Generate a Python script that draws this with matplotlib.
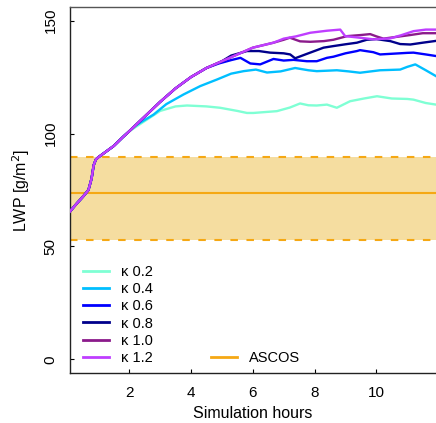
import matplotlib
matplotlib.use("Agg")
import matplotlib.pyplot as plt
from matplotlib.lines import Line2D

plt.rcParams['font.family'] = ['Liberation Sans', 'DejaVu Sans']

# ---- data ----
# common initial spin-up (hours, LWP)
t_common = [0.083, 0.3, 0.5, 0.68, 0.78, 0.85, 0.92, 1.0, 1.2, 1.5, 1.8, 2.0]
lwp_common = [65.5, 69.0, 72.0, 75.0, 80.0, 86.0, 88.5, 89.5, 91.5, 94.5, 98.5, 101.0]

t_k02 = [2.5, 3.0, 3.5, 3.87, 4.5, 4.94, 5.5, 5.81, 6.02, 6.4, 6.78, 7.2, 7.53, 7.8,
         8.07, 8.4, 8.72, 9.15, 9.6, 10.02, 10.5, 11.0, 11.2, 11.6, 11.93]
lwp_k02 = [105.5, 110.0, 112.0, 112.4, 112.0, 111.4, 110.0, 109.1, 109.1, 109.5, 109.9,
           111.5, 113.3, 112.5, 112.4, 112.8, 111.4, 114.3, 115.5, 116.5, 115.5, 115.3,
           115.0, 113.5, 112.8]

t_k04 = [2.2, 2.79, 3.2, 3.76, 4.3, 4.84, 5.3, 5.7, 6.1, 6.46, 6.9, 7.37, 7.8, 8.07,
         8.72, 9.1, 9.47, 10.12, 10.77, 11.0, 11.26, 11.6, 11.93]
lwp_k04 = [103.5, 108.4, 113.0, 117.3, 121.0, 123.9, 126.5, 127.6, 128.3, 127.0, 127.5,
           129.0, 128.0, 127.6, 128.0, 127.5, 126.9, 128.0, 128.3, 129.5, 130.6, 128.0, 125.4]

# shared upper trajectory for k >= 0.6 before they split
t_upper = [2.5, 3.0, 3.5, 4.0, 4.5]
lwp_upper = [107.5, 114.0, 120.0, 125.0, 129.0]

t_k06 = [4.9, 5.3, 5.6, 5.92, 6.24, 6.67, 7.0, 7.32, 7.75, 8.07, 8.4, 8.61, 9.0, 9.37,
         9.47, 9.9, 10.12, 10.5, 11.0, 11.2, 11.6, 11.93]
lwp_k06 = [131.0, 132.5, 133.5, 131.0, 130.6, 133.0, 132.3, 132.6, 132.0, 132.0, 133.5,
           134.0, 135.5, 136.5, 136.9, 136.0, 135.0, 135.3, 135.7, 135.8, 135.0, 134.3]

t_k08 = [5.0, 5.3, 5.81, 6.2, 6.56, 7.0, 7.21, 7.37, 7.7, 8.29, 8.61, 9.0, 9.37, 9.69,
         10.0, 10.45, 10.77, 11.1, 11.5, 11.93]
lwp_k08 = [132.0, 134.5, 136.5, 136.5, 135.8, 135.5, 135.0, 133.3, 135.0, 138.0, 138.7,
           139.5, 140.2, 141.5, 141.8, 140.9, 139.6, 139.4, 140.2, 141.0]

t_k10 = [5.0, 5.5, 6.0, 6.67, 7.0, 7.2, 7.53, 7.86, 8.3, 8.61, 9.05, 9.5, 9.8, 10.0,
         10.23, 10.5, 11.1, 11.5, 11.93]
lwp_k10 = [132.0, 135.0, 138.0, 140.2, 141.5, 142.4, 140.8, 140.6, 140.9, 141.5, 143.1,
           143.6, 144.0, 143.0, 142.0, 142.5, 143.6, 144.4, 144.4]

t_k12 = [5.0, 5.5, 6.0, 6.67, 7.0, 7.4, 7.86, 8.4, 8.83, 8.99, 9.4, 9.91, 10.45, 10.8,
         11.2, 11.6, 11.93]
lwp_k12 = [132.0, 135.0, 138.0, 140.2, 142.0, 143.0, 144.6, 145.5, 146.0, 143.1, 142.5,
           141.7, 142.1, 143.5, 145.3, 146.0, 146.0]

ascos_mean = 73.6
ascos_low = 52.8
ascos_high = 89.4

kappa_labels = ['κ 0.2', 'κ 0.4', 'κ 0.6', 'κ 0.8', 'κ 1.0', 'κ 1.2']
kappa_colors = ['#7FFFD4', '#00BFFF', '#0000FF', '#00008B', '#8B1A8B', '#BF3EFF']
ascos_label = 'ASCOS'

x_ticks = [2, 4, 6, 8, 10]
y_ticks = [0, 50, 100, 150]

# ---- figure ----
fig = plt.figure(figsize=(4.36, 4.23), dpi=100)
ax = fig.add_axes([70 / 436, 1 - 373 / 423, 366 / 436, 366 / 423])

orange = '#F5A814'
ax.axhspan(ascos_low, ascos_high, color='#F5DDA0', lw=0, zorder=1)
ax.axhline(ascos_mean, color=orange, lw=1.5, zorder=2)
for v in (ascos_low, ascos_high):
    ax.axhline(v, color=orange, lw=1.5, dashes=(3.6, 4.1), zorder=2)


def seg(*parts):
    xs, ys = [], []
    for px, py in parts:
        xs += list(px)
        ys += list(py)
    return xs, ys

series = [
    seg((t_common, lwp_common), (t_k02, lwp_k02)),
    seg((t_common, lwp_common), (t_k04, lwp_k04)),
    seg((t_common, lwp_common), (t_upper, lwp_upper), (t_k06, lwp_k06)),
    seg((t_common, lwp_common), (t_upper, lwp_upper), (t_k08, lwp_k08)),
    seg((t_common, lwp_common), (t_upper, lwp_upper), (t_k10, lwp_k10)),
    seg((t_common, lwp_common), (t_upper, lwp_upper), (t_k12, lwp_k12)),
]
for (xs, ys), c in zip(series, kappa_colors):
    ax.plot(xs, ys, color=c, lw=1.7, zorder=3, solid_joinstyle='round')

ax.set_xlim(0.083, 11.93)
ax.set_ylim(-6, 156)
ax.set_xticks(x_ticks)
ax.set_yticks(y_ticks)
ax.tick_params(direction='in', length=3, width=0.8, labelsize=11, pad=9)
for lab in ax.get_yticklabels():
    lab.set_rotation(90)
    lab.set_va('center')
ax.spines['right'].set_visible(False)
ax.spines['top'].set_color('#555555')
ax.spines['left'].set_color('#222222')
ax.spines['bottom'].set_color('#222222')
for s in ax.spines.values():
    s.set_linewidth(1.0)

ax.set_xlabel('Simulation hours', fontsize=11.5, labelpad=5)
ax.set_ylabel('LWP [g/m$^2$]', fontsize=11.5, labelpad=8)

handles = [Line2D([], [], color=c, lw=2) for c in kappa_colors]
leg1 = ax.legend(handles, kappa_labels, loc='lower left',
                 bbox_to_anchor=(0.035, 0.022), frameon=False, fontsize=10.5,
                 handlelength=1.8, handletextpad=0.8, labelspacing=0.22,
                 borderpad=0, borderaxespad=0)
ax.add_artist(leg1)
leg2 = ax.legend([Line2D([], [], color=orange, lw=2)], [ascos_label], loc='lower left',
                 bbox_to_anchor=(0.385, 0.022), frameon=False, fontsize=10.5,
                 handlelength=1.8, handletextpad=0.8, borderpad=0, borderaxespad=0)

fig.savefig('out.png', dpi=100)
